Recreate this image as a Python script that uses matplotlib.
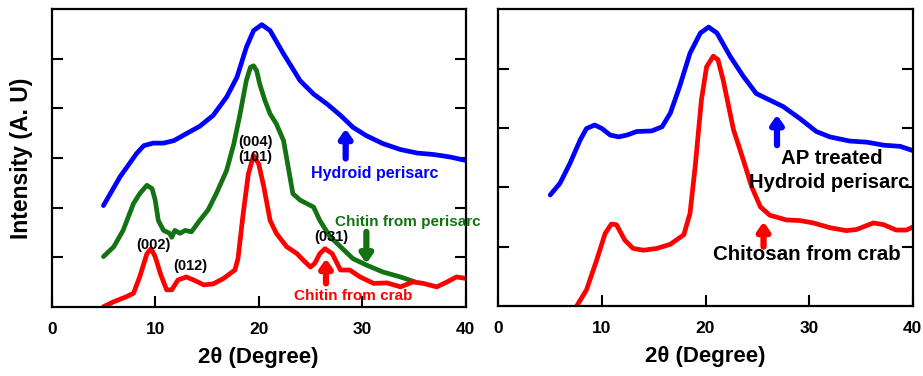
import matplotlib
matplotlib.use("Agg")
import matplotlib.pyplot as plt

plt.rcParams["font.family"] = ["Liberation Sans", "DejaVu Sans"]
plt.rcParams["font.weight"] = "bold"

# left panel: chitin samples
hyd_x = [5.0, 6.6, 8.2, 8.9, 9.8, 10.8, 11.8, 13.0, 14.3, 15.6, 16.9, 17.9, 18.8, 19.5, 20.3,
         21.1, 22.4, 24.0, 25.3, 26.6, 27.9, 29.1, 30.4, 32.0, 33.7, 35.3, 36.9, 38.5, 40.0]
hyd_y = [2.04, 2.62, 3.09, 3.25, 3.30, 3.30, 3.35, 3.49, 3.64, 3.86, 4.23, 4.63, 5.23, 5.57, 5.69,
         5.57, 5.10, 4.56, 4.29, 4.09, 3.86, 3.62, 3.45, 3.29, 3.17, 3.10, 3.07, 3.02, 2.95]

per_x = [5.0, 6.0, 6.9, 7.9, 8.5, 9.2, 9.7, 10.0, 10.3, 10.8, 11.4, 11.6, 11.9, 12.4, 12.9, 13.5,
         14.3, 15.1, 15.9, 16.9, 17.6, 18.2, 18.8, 19.2, 19.5, 19.8, 20.1, 20.6, 21.1, 21.7, 22.4,
         23.3, 24.0, 25.3, 25.9, 26.9, 27.9, 29.1, 30.4, 32.0, 33.7, 35.1]
per_y = [1.01, 1.21, 1.54, 2.08, 2.28, 2.45, 2.38, 2.15, 1.74, 1.54, 1.48, 1.40, 1.54, 1.48, 1.54, 1.51,
         1.74, 1.95, 2.28, 2.75, 3.29, 3.89, 4.56, 4.83, 4.86, 4.76, 4.49, 4.16, 3.89, 3.69, 3.35,
         2.28, 2.15, 2.01, 1.74, 1.41, 1.21, 0.97, 0.84, 0.70, 0.60, 0.50]

crab_x = [5.0, 6.0, 7.2, 7.9, 8.5, 9.2, 9.6, 10.0, 10.5, 11.1, 11.6, 12.2, 13.0, 13.7, 14.7, 15.6,
          16.6, 17.7, 18.0, 18.5, 19.0, 19.5, 20.0, 20.5, 21.1, 21.7, 22.7, 23.7, 24.3, 25.0, 25.4,
          25.9, 26.4, 27.1, 27.9, 28.8, 29.8, 31.1, 32.4, 33.7, 34.9, 35.9, 37.2, 38.2, 39.1, 40.0]
crab_y = [0.0, 0.10, 0.20, 0.27, 0.60, 1.07, 1.17, 1.01, 0.67, 0.34, 0.34, 0.54, 0.60, 0.54, 0.44, 0.46,
          0.57, 0.74, 0.97, 1.88, 2.68, 3.05, 2.88, 2.41, 1.74, 1.48, 1.21, 1.07, 0.94, 0.80, 0.87,
          1.07, 1.17, 1.07, 0.74, 0.74, 0.60, 0.47, 0.48, 0.40, 0.50, 0.47, 0.40, 0.50, 0.60, 0.57]

# right panel: treated samples
ap_x = [5.0, 5.95, 6.9, 7.9, 8.5, 9.3, 10.0, 10.8, 11.6, 12.4, 13.35, 14.8, 15.8, 16.6, 17.5, 18.5,
        19.5, 20.3, 21.1, 22.4, 23.65, 24.9, 26.2, 27.5, 29.1, 30.7, 32.0, 33.9, 35.6, 37.2, 38.8, 40.0]
ap_y = [1.87, 2.07, 2.40, 2.80, 2.99, 3.05, 2.99, 2.88, 2.85, 2.88, 2.94, 2.95, 3.02, 3.25, 3.70, 4.26,
        4.60, 4.70, 4.60, 4.20, 3.87, 3.58, 3.47, 3.36, 3.16, 2.94, 2.85, 2.78, 2.76, 2.71, 2.69, 2.62]

cts_x = [7.56, 8.5, 9.5, 10.3, 10.9, 11.4, 12.2, 13.0, 14.0, 15.3, 16.6, 17.9, 18.5, 19.0, 19.6, 20.1,
         20.75, 21.2, 21.7, 22.7, 23.65, 24.45, 25.3, 26.2, 27.8, 29.1, 30.4, 32.0, 33.6, 34.6, 36.2,
         37.2, 38.4, 39.4, 40.0]
cts_y = [0.0, 0.27, 0.78, 1.22, 1.38, 1.37, 1.11, 0.97, 0.94, 0.97, 1.04, 1.20, 1.56, 2.35, 3.47, 4.03,
         4.21, 4.15, 3.81, 2.97, 2.46, 2.01, 1.67, 1.53, 1.45, 1.44, 1.40, 1.32, 1.27, 1.29, 1.40,
         1.37, 1.28, 1.28, 1.33]

xticks = [0, 10, 20, 30, 40]
BLUE, GREEN, RED = "#0000ff", "#137313", "#ff0000"
LW = 3.4

fig = plt.figure(figsize=(9.23, 3.76), dpi=100)
ax1 = fig.add_axes([0.056, 0.1843, 0.4486, 0.7910])
ax2 = fig.add_axes([0.540, 0.1862, 0.4488, 0.7891])


def style(ax, ymax):
    ax.set_xlim(0, 40)
    ax.set_ylim(0, ymax)
    ax.set_xticks(xticks)
    ax.set_xticklabels([str(t) for t in xticks], fontsize=12.5, fontweight="bold")
    ax.set_yticks(range(1, ymax))
    ax.set_yticklabels([])
    ax.tick_params(direction="in", length=8, width=1.5, right=True, pad=11)
    ax.tick_params(axis="x", which="both", top=False)
    for s in ax.spines.values():
        s.set_linewidth(1.6)
    ax.set_xlabel("2θ (Degree)", fontsize=16, fontweight="bold", labelpad=7)


def arrow(ax, x, y0, y1, color):
    ax.annotate("", xy=(x, y1), xytext=(x, y0),
                arrowprops=dict(arrowstyle="-|>,head_width=0.35,head_length=0.5",
                                lw=4.5, color=color, shrinkA=0, shrinkB=0))


def curve(ax, x, y, color):
    ax.plot(x, y, color=color, lw=LW, solid_capstyle="round", solid_joinstyle="round")


curve(ax1, hyd_x, hyd_y, BLUE)
curve(ax1, per_x, per_y, GREEN)
curve(ax1, crab_x, crab_y, RED)
style(ax1, 6)

for lab, x, y in [("(004)", 19.7, 3.32), ("(101)", 19.7, 3.03), ("(002)", 9.8, 1.24),
                  ("(012)", 13.4, 0.82), ("(031)", 27.0, 1.40)]:
    ax1.text(x, y, lab, ha="center", va="center", fontsize=10.5, fontweight="bold", color="black")

ax1.text(31.2, 2.68, "Hydroid perisarc", color=BLUE, ha="center", va="center",
         fontsize=11.5, fontweight="bold")
ax1.text(27.4, 1.71, "Chitin from perisarc", color=GREEN, ha="left", va="center",
         fontsize=11, fontweight="bold", clip_on=False)
ax1.text(29.1, 0.215, "Chitin from crab", color=RED, ha="center", va="center",
         fontsize=11, fontweight="bold")
arrow(ax1, 28.4, 2.99, 3.59, BLUE)
arrow(ax1, 30.4, 1.51, 0.87, GREEN)
arrow(ax1, 26.5, 0.47, 0.97, RED)

curve(ax2, ap_x, ap_y, BLUE)
curve(ax2, cts_x, cts_y, RED)
style(ax2, 5)
ax2.text(32.2, 2.49, "AP treated", ha="center", va="center", fontsize=14.7, fontweight="bold")
ax2.text(31.9, 2.08, "Hydroid perisarc", ha="center", va="center", fontsize=14.5, fontweight="bold")
ax2.text(29.8, 0.86, "Chitosan from crab", ha="center", va="center", fontsize=14.8, fontweight="bold")
arrow(ax2, 26.9, 2.71, 3.22, BLUE)
arrow(ax2, 25.6, 1.0, 1.42, RED)

fig.text(22 / 923, 1 - 158 / 376, "Intensity (A. U)", rotation=90, ha="center", va="center",
         fontsize=16.5, fontweight="bold")

fig.savefig("out.png", dpi=100)
